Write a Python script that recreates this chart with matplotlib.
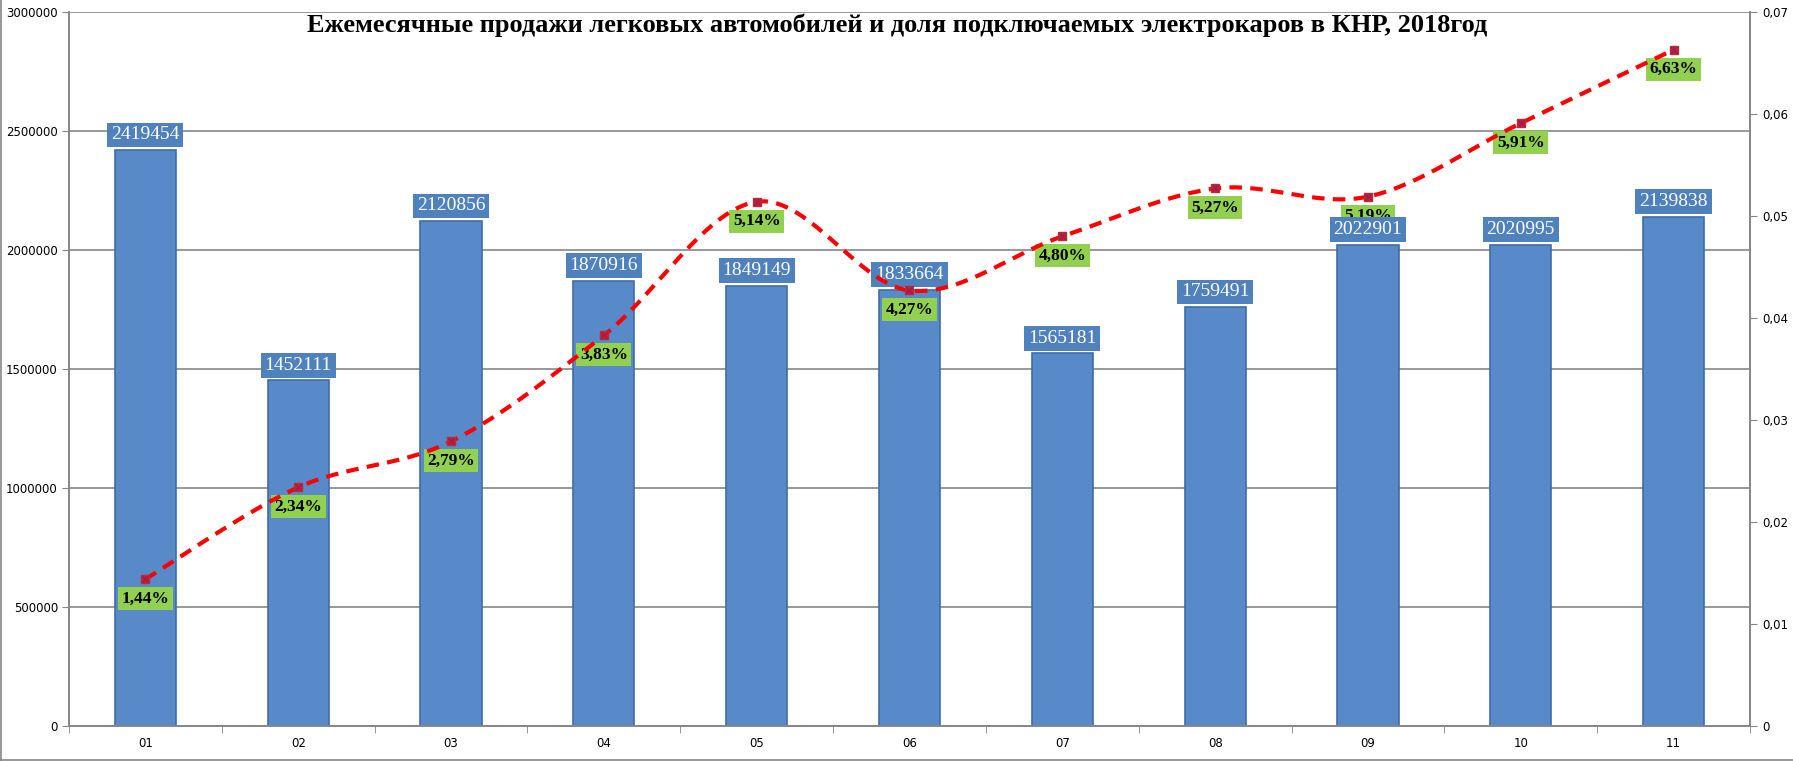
import numpy as np
import matplotlib.pyplot as plt
from matplotlib.ticker import FuncFormatter, MultipleLocator

# данные
months = ['01', '02', '03', '04', '05', '06', '07', '08', '09', '10', '11']
sales = [2419454, 1452111, 2120856, 1870916, 1849149, 1833664,
         1565181, 1759491, 2022901, 2020995, 2139838]
ev_share = [0.0144, 0.0234, 0.0279, 0.0383, 0.0514, 0.0427,
            0.0480, 0.0527, 0.0519, 0.0591, 0.0663]
title = 'Ежемесячные продажи легковых автомобилей и доля подключаемых электрокаров в КНР, 2018год'

serif = ['Liberation Serif', 'DejaVu Serif']
grey = '#868686'

fig = plt.figure(figsize=(17.93, 7.61), dpi=100)
ax = fig.add_axes([69 / 1793, 1 - 726 / 761, (1750 - 69) / 1793, (726 - 12) / 761])
ax2 = ax.twinx()

x = np.arange(len(months))

# столбцы
ax.bar(x, sales, width=0.4, color='#5889C9', edgecolor='#3F6DA6', linewidth=1.2, zorder=2)
ax.set_xlim(-0.5, len(months) - 0.5)
ax.set_ylim(0, 3000000)
ax.yaxis.set_major_locator(MultipleLocator(500000))
ax.yaxis.set_major_formatter(FuncFormatter(lambda v, p: f'{int(v)}'))
ax.grid(axis='y', color=grey, linewidth=1.2, zorder=0)
ax.set_axisbelow(True)
ax.set_xticks(x)
ax.set_xticklabels(months)
ax.set_xticks(np.arange(-0.5, len(months)), minor=True)
ax.tick_params(axis='x', which='major', length=0, pad=8, labelsize=8.5)
ax.tick_params(axis='x', which='minor', length=5, color=grey, direction='out')
ax.tick_params(axis='y', length=5, color=grey, direction='out', labelsize=8.5, pad=3)

ax2.set_ylim(0, 0.07)
ax2.yaxis.set_major_locator(MultipleLocator(0.01))
ax2.yaxis.set_major_formatter(FuncFormatter(
    lambda v, p: '0' if abs(v) < 1e-9 else f'{v:.2f}'.replace('.', ',')))
ax2.tick_params(axis='y', length=5, color=grey, direction='out', labelsize=8.5, pad=4)

for a in (ax, ax2):
    a.spines['top'].set_visible(False)
    for s in ('left', 'right', 'bottom'):
        a.spines[s].set_color(grey)
        a.spines[s].set_linewidth(1.2)

# сглаженная линия (Catmull-Rom, как сглаживание в Excel)
pts = np.column_stack([x, ev_share]).astype(float)
ext = np.vstack([pts[0], pts, pts[-1]])
curve = []
for i in range(1, len(ext) - 2):
    p0, p1, p2, p3 = ext[i - 1], ext[i], ext[i + 1], ext[i + 2]
    for t in np.linspace(0, 1, 30, endpoint=False):
        t2, t3 = t * t, t * t * t
        curve.append(0.5 * (2 * p1 + (-p0 + p2) * t + (2 * p0 - 5 * p1 + 4 * p2 - p3) * t2
                            + (-p0 + 3 * p1 - 3 * p2 + p3) * t3))
curve.append(pts[-1])
curve = np.array(curve)
ax2.plot(curve[:, 0], curve[:, 1], color='#FF0000', linewidth=3, linestyle=(0, (3, 2)),
         zorder=6)
ax2.plot(x, ev_share, linestyle='none', marker='s', markersize=6, color='#E0102A',
         markeredgecolor='#B0303A', zorder=7)
ax2.plot(x, ev_share, linestyle='none', marker='x', markersize=4, color='#7A2A60',
         markeredgewidth=0.8, zorder=8)

# подписи долей
for xi, v in zip(x, ev_share):
    ax2.annotate(f'{v * 100:.2f}%'.replace('.', ','), (xi, v), xytext=(0, -14),
                 textcoords='offset points', ha='center', va='center',
                 fontsize=12.5, fontweight='bold', family=serif, color='black',
                 bbox=dict(boxstyle='square,pad=0.2', fc='#92D050', ec='none'), zorder=4)

# подписи продаж
for xi, v in zip(x, sales):
    ax2.annotate(f'{v}', (xi, v), xycoords=ax.transData, xytext=(0, 11),
                 textcoords='offset points', ha='center', va='center',
                 fontsize=14, family=serif, color='white',
                 bbox=dict(boxstyle='square,pad=0.2', fc='#4F81BD', ec='none'), zorder=5)

fig.text(897 / 1793, 1 - 25 / 761, title, ha='center', va='center',
         fontsize=19, fontweight='bold', family=serif)

# рамка области диаграммы
fig.add_artist(plt.Line2D([1 / 1793, 1 / 1793], [0, 1], color=grey, linewidth=1.2))
fig.add_artist(plt.Line2D([0, 1], [1.5 / 761, 1.5 / 761], color=grey, linewidth=1.2))

fig.savefig('out.png', dpi=100)
